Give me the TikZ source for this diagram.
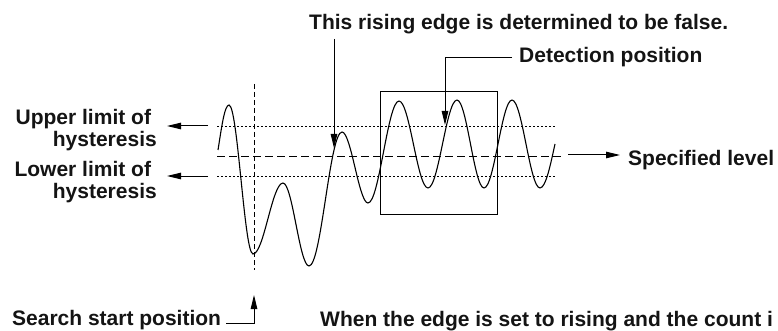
\documentclass[tikz,border=0pt]{standalone}
\usepackage{fontspec}
\setmainfont{Liberation Sans}
\usetikzlibrary{arrows.meta}
\begin{document}
\begin{tikzpicture}[x=1pt,y=-1pt,
  lbl/.style={font=\fontsize{21}{22}\selectfont\bfseries, inner sep=0pt, text=black!92},
  arr/.style={-{Triangle[length=14pt,width=6.5pt]}, line width=1pt},
  thinln/.style={line width=1pt},
  dotln/.style={line width=0.9pt, dash pattern=on 2pt off 2pt},
  dashln/.style={line width=0.9pt, dash pattern=on 8pt off 4pt},
  vdash/.style={line width=0.9pt, dash pattern=on 5pt off 3pt},
  wave/.style={line width=1.1pt}]
\path[use as bounding box, clip] (0,0) rectangle (778,331);

% level lines
\draw[dotln] (217,126) -- (556,126);
\draw[dotln] (217,176) -- (556,176);
\draw[dashln] (217,156) -- (563,156);
\draw[vdash] (254,84) -- (254,270);

% detection window
\draw[thinln] (380,92) rectangle (497,214);

% waveform
\draw[wave] (218,150) .. controls +(3.5,-22) and +(-4.5,0) .. (229,105)
 .. controls +(8.7,0) and +(-8.7,0) .. (253,254)
 .. controls +(10.9,0) and +(-10.9,0) .. (283,183)
 .. controls +(9.5,0) and +(-9.5,0) .. (309,266)
 .. controls +(12.4,0) and +(-12.4,0) .. (342,132)
 .. controls +(9.1,0) and +(-9.1,0) .. (368,203)
 .. controls +(11.3,0) and +(-11.3,0) .. (399,101)
 .. controls +(10.6,0) and +(-10.6,0) .. (428,188)
 .. controls +(10.6,0) and +(-10.6,0) .. (457,100)
 .. controls +(9.8,0) and +(-9.8,0) .. (484,188)
 .. controls +(10.2,0) and +(-10.2,0) .. (512,100)
 .. controls +(10.2,0) and +(-10.2,0) .. (540,188)
 .. controls +(6,0) and +(-4,18) .. (555,144);

% labels
\node[lbl, anchor=base west] (false) at (309,30) {This rising edge is determined to be false.};
\node[lbl, anchor=base west] (det) at (519,63) {Detection position};
\node[lbl, anchor=base west] (spec) at (628,165) {Specified level};
\node[lbl, anchor=base west] (search) at (12,325) {Search start position};
\node[lbl, anchor=base west] (when) at (320,326) {When the edge is set to rising and the count i};
\node[lbl, align=right, anchor=north east] (upper) at (157,109) {Upper limit of\hspace*{5.8pt}\\hysteresis};
\node[lbl, align=right, anchor=north east] (lower) at (157,161.5) {Lower limit of\hspace*{5.8pt}\\hysteresis};

% connector points
\coordinate (fA) at (334,39);
\coordinate (fTip) at (334,148);
\coordinate (dTip) at (445,125);
\coordinate (upA) at (208,126);
\coordinate (loA) at (208,176);
\coordinate (spA) at (568,155);
\coordinate (sB) at (254,323);
\coordinate (sTip) at (254,295);

% connectors
\draw[arr] (fA) -- (fTip);
\draw[arr] ([xshift=-7pt]det.west) -| (dTip);
\draw[arr] (upA) -- ([xshift=10pt]upper.east |- upA);
\draw[arr] (loA) -- ([xshift=10pt]lower.east |- loA);
\draw[arr] (spA) -- ([xshift=-8pt]spec.west |- spA);
\draw[arr] ([xshift=5pt]search.east |- sB) -- (sB) -- (sTip);
\end{tikzpicture}
\end{document}
